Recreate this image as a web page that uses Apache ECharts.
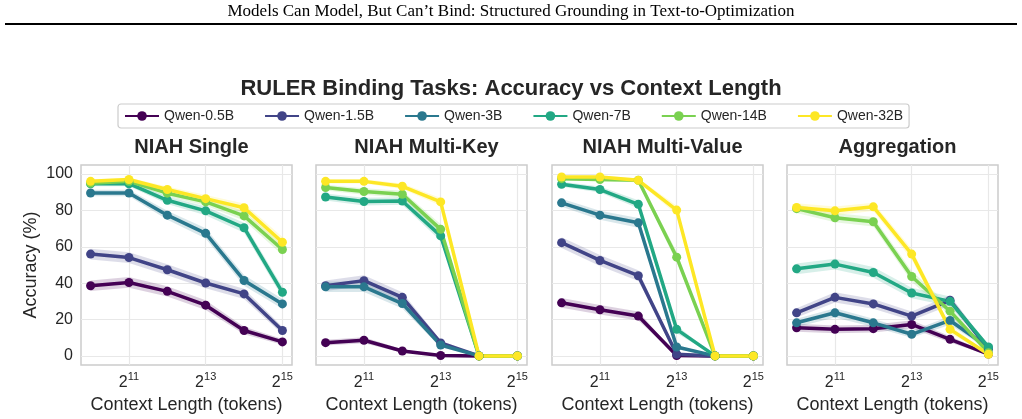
<!DOCTYPE html>
<html><head><meta charset="utf-8">
<script src="https://cdn.jsdelivr.net/npm/echarts@6/dist/echarts.min.js"></script>
<style>html,body{margin:0;padding:0;background:#fff}#c{width:1022px;height:419px}</style>
</head><body><div id="c"></div><script>
// ---- data ----
const contextLengths = [1024, 2048, 4096, 8192, 16384, 32768];
const xTickLengths = [2048, 8192, 32768];
const yTicks = [0, 20, 40, 60, 80, 100];
const models = ['Qwen-0.5B', 'Qwen-1.5B', 'Qwen-3B', 'Qwen-7B', 'Qwen-14B', 'Qwen-32B'];
const modelColors = ['#440154', '#414487', '#2a788e', '#22a884', '#7ad151', '#fde725'];
const taskTitles = ['NIAH Single', 'NIAH Multi-Key', 'NIAH Multi-Value', 'Aggregation'];
const headerText = 'Models Can Model, But Can\u2019t Bind: Structured Grounding in Text-to-Optimization';
const mainTitle = 'RULER Binding Tasks: Accuracy vs Context Length';
const xName = 'Context Length (tokens)';
const yName = 'Accuracy (%)';
// band = standard error of a proportion over this many samples
const bandSampleSize = 280;

const niahSingle = [
  [38.6, 40.4, 35.5, 27.9, 14.0, 7.7],
  [56.0, 54.1, 47.4, 40.1, 34.1, 14.0],
  [89.6, 89.6, 77.4, 67.4, 41.5, 28.6],
  [94.7, 94.7, 85.6, 79.8, 70.5, 35.0],
  [95.0, 96.0, 89.5, 84.7, 77.0, 58.5],
  [96.0, 97.0, 91.5, 86.5, 81.5, 62.5]
];
const niahMultiKey = [
  [7.3, 8.6, 2.7, 0.2, 0, 0],
  [38.6, 41.4, 32.2, 7.1, 0, 0],
  [38.0, 38.0, 28.8, 6.0, 0, 0],
  [87.4, 84.9, 85.2, 66.0, 0, 0],
  [92.6, 90.4, 88.9, 69.6, 0, 0],
  [96.0, 96.0, 93.3, 84.7, 0, 0]
];
const niahMultiValue = [
  [29.2, 25.4, 21.9, 0.2, 0, 0],
  [62.3, 52.5, 44.1, 0.9, 0, 0],
  [84.2, 77.4, 73.2, 4.9, 0, 0],
  [94.4, 91.5, 83.4, 14.6, 0, 0],
  [97.5, 97.0, 96.6, 54.3, 0, 0],
  [98.4, 98.4, 96.6, 80.2, 0, 0]
];
const aggregation = [
  [15.5, 14.6, 15.0, 17.3, 9.1, 1.0],
  [23.7, 32.2, 28.6, 21.9, 30.6, 3.7],
  [18.2, 23.7, 18.2, 11.9, 19.5, 4.6],
  [47.9, 50.5, 45.9, 34.6, 30.0, 4.9],
  [81.0, 76.0, 73.8, 43.7, 24.6, 1.8],
  [81.6, 79.8, 82.0, 56.0, 14.6, 0.9]
];
const taskData = [niahSingle, niahMultiKey, niahMultiValue, aggregation];

// ---- layout / style ----
const textColor = '#262626';
const gridLefts = [81, 316, 552, 787];
const gridWidth = 211, gridTop = 165, gridHeight = 200;
const xExp = contextLengths.map(c => Math.log2(c));
const xTickExp = xTickLengths.map(c => Math.log2(c));

const grids = [], xAxes = [], yAxes = [], series = [];
const titles = [{
  text: mainTitle, left: 'center', top: 73,
  textStyle: { fontFamily: 'Liberation Sans', fontSize: 22, fontWeight: 'bold', color: textColor }
}];

taskData.forEach((task, gi) => {
  grids.push({ left: gridLefts[gi], top: gridTop, width: gridWidth, height: gridHeight,
    show: true, borderColor: '#cccccc', borderWidth: 1.5, backgroundColor: '#fff' });
  titles.push({ text: taskTitles[gi], left: gridLefts[gi] + gridWidth / 2, top: 132, textAlign: 'center',
    textStyle: { fontFamily: 'Liberation Sans', fontSize: 20, fontWeight: 'bold', color: textColor } });
  xAxes.push({
    gridIndex: gi, type: 'value', min: 9.75, max: 15.25,
    axisLine: { show: false },
    axisTick: { show: false, customValues: xTickExp },
    axisLabel: {
      customValues: xTickExp, margin: 6,
      formatter: v => '{b|2}{s|' + v + '}',
      rich: {
        b: { fontFamily: 'Liberation Sans', fontSize: 16, color: textColor, verticalAlign: 'bottom', lineHeight: 20 },
        s: { fontFamily: 'Liberation Sans', fontSize: 11, color: textColor, verticalAlign: 'top', lineHeight: 20 }
      }
    },
    splitLine: { show: true, lineStyle: { color: '#e8e8e8', width: 1.2 } },
    name: xName, nameLocation: 'middle', nameGap: 31,
    nameTextStyle: { fontFamily: 'Liberation Sans', fontSize: 18, color: textColor }
  });
  yAxes.push({
    gridIndex: gi, type: 'value', min: -5, max: 105,
    axisLine: { show: false },
    axisTick: { show: false, customValues: yTicks },
    axisLabel: { show: gi === 0, customValues: yTicks, margin: 8,
      fontFamily: 'Liberation Sans', fontSize: 16, color: textColor },
    splitLine: { show: true, lineStyle: { color: '#e8e8e8', width: 1.2 } },
    name: gi === 0 ? yName : '', nameLocation: 'middle', nameGap: 41,
    nameTextStyle: { fontFamily: 'Liberation Sans', fontSize: 18, color: textColor }
  });
  task.forEach((vals, mi) => {
    const color = modelColors[mi];
    const rows = vals.map((v, i) => {
      const p = v / 100;
      const h = 100 * Math.sqrt(p * (1 - p) / bandSampleSize);
      return [xExp[i], v - h, v + h];
    });
    series.push({
      type: 'custom', xAxisIndex: gi, yAxisIndex: gi, data: rows, silent: true, z: 2,
      encode: { x: 0, y: [1, 2] },
      renderItem: (params, api) => {
        if (params.dataIndex !== 0) return null;
        const up = rows.map(r => api.coord([r[0], r[2]]));
        const lo = rows.map(r => api.coord([r[0], r[1]])).reverse();
        return { type: 'polygon', shape: { points: up.concat(lo) }, style: { fill: color, opacity: 0.18 } };
      }
    });
    series.push({
      type: 'line', name: models[mi], xAxisIndex: gi, yAxisIndex: gi, z: 2,
      data: vals.map((v, i) => [xExp[i], v]),
      symbol: 'circle', symbolSize: 9, showSymbol: true,
      lineStyle: { width: 3.5, color: color }, itemStyle: { color: color },
      emphasis: { disabled: true }, animation: false
    });
  });
});

const chart = echarts.init(document.getElementById('c'), null, { renderer: 'canvas' });
chart.setOption({
  animation: false,
  backgroundColor: '#ffffff',
  title: titles,
  legend: {
    data: models, left: 118, top: 104,
    itemWidth: 34, itemHeight: 12, itemGap: 30,
    padding: [5, 6], borderColor: '#cccccc', borderWidth: 1.2, borderRadius: 3,
    backgroundColor: '#fff',
    textStyle: { fontFamily: 'Liberation Sans', fontSize: 14, color: textColor }
  },
  graphic: [
    { type: 'text', left: 'center', top: 3,
      style: { text: headerText, font: '17px "Liberation Serif"', fill: '#000' } },
    { type: 'rect', shape: { x: 5, y: 23, width: 1012, height: 2 }, style: { fill: '#000' } }
  ],
  grid: grids, xAxis: xAxes, yAxis: yAxes, series: series
});
</script></body></html>
